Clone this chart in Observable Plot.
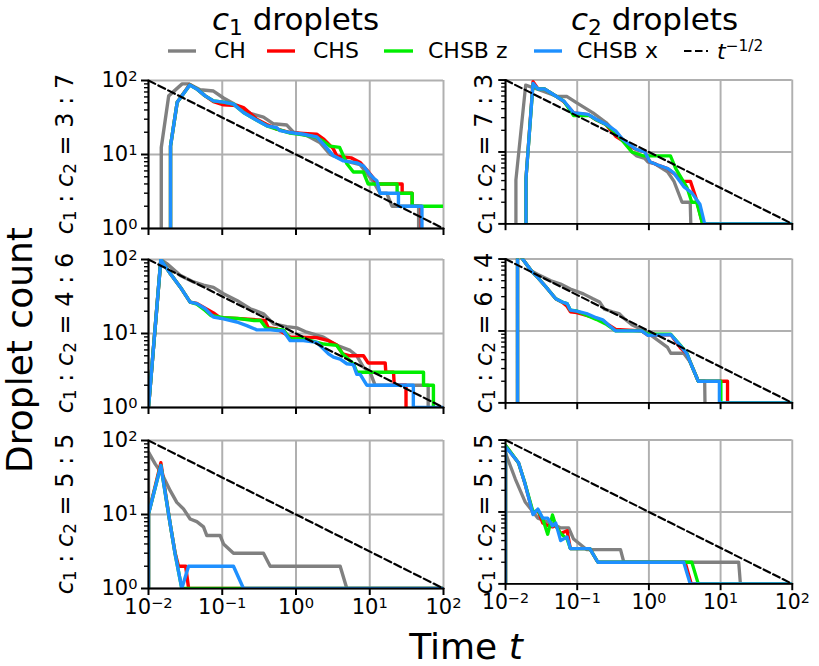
<!DOCTYPE html>
<html><head><meta charset="utf-8">
<script src="https://cdn.jsdelivr.net/npm/d3@7"></script>
<script src="https://cdn.jsdelivr.net/npm/@observablehq/plot@0.6"></script>
<style>
body{margin:0;background:#fff;font-family:"DejaVu Sans",sans-serif;}
#fig{position:relative;width:819px;height:666px;overflow:hidden;background:#fff}
.panel{position:absolute}
.lbl{position:absolute;white-space:nowrap;color:#000;line-height:1}
.sub{font-size:0.7em;vertical-align:-0.22em}
.sup{font-size:0.7em;vertical-align:0.5em}
</style></head><body><div id="fig"></div>
<script>
// ---- categories, styles of series ----
const seriesNames = ["CH", "CHS", "CHSB z", "CHSB x"];
const seriesColors = ["#808080", "#ff0000", "#00ee00", "#1e90ff"];
const colTitles = ["1", "2"];
const rowRatiosLeft = ["3 : 7", "4 : 6", "5 : 5"];
const rowRatiosRight = ["7 : 3", "6 : 4", "5 : 5"];
// ---- ticks ----
const xTicks = [1e-2, 1e-1, 1e0, 1e1, 1e2];
const xTickLabels = ["10^-2", "10^-1", "10^0", "10^1", "10^2"];
const yTicks = [1, 10, 100];
const yTickLabels = ["10^0", "10^1", "10^2"];
const yMinorTicks = [2, 3, 4, 5, 6, 7, 8, 9, 20, 30, 40, 50, 60, 70, 80, 90];
// reference t^(-1/2) line end points
const refT = [0.01, 100];
const refN = [100, 1];

// ---- data: [time, droplet count] (0 = no droplets) ----
// row 1, c1 droplets (3:7)
const r1c1_CH = [[0.0149,0],[0.0149,12.4],[0.0188,62],[0.0286,90],[0.0349,90],[0.0502,75],[0.076,72],[0.104,58],[0.158,46],[0.239,36],[0.362,32],[0.495,26],[0.751,25],[0.925,20],[1.4,18],[2.13,14.4],[2.9,10],[4.9,8.1],[7.4,7.3],[9.1,5.6],[11.2,4.3],[13.8,3],[17,3],[20,2],[46,2],[46,0]];
const r1c1_CHS = [[0.0199,0],[0.0199,13],[0.0245,51],[0.0363,88],[0.0452,77],[0.0587,62],[0.076,52],[0.104,47],[0.158,46],[0.194,43],[0.294,30],[0.402,25.5],[0.55,22],[0.834,19.8],[1.26,19.3],[1.91,18.8],[2.4,16],[3.2,12],[3.6,9.5],[5.6,9],[7.4,7.8],[9.1,6.2],[11.2,4.8],[12.5,4],[27.5,4],[27.5,3],[37.6,3],[37.6,2],[50,2],[50,0]];
const r1c1_CHSBz = [[0.0199,0],[0.0199,13],[0.0245,51],[0.0363,87],[0.0452,77],[0.0587,62],[0.076,53],[0.104,51],[0.142,48],[0.194,37],[0.294,29],[0.402,24.4],[0.55,22],[0.834,19.5],[1.26,18.5],[1.91,17],[2.36,15],[2.9,13],[3.9,12.5],[4.9,7.5],[6,5.8],[8.2,5.8],[9.5,4],[23.5,4],[23.5,3],[37.6,3],[37.6,2],[100,2]];
const r1c1_CHSBx = [[0.0199,0],[0.0199,13],[0.0245,51],[0.0363,87],[0.0452,77],[0.0587,62],[0.076,53],[0.104,51],[0.142,48],[0.194,37],[0.294,29],[0.402,24.4],[0.55,23],[0.61,21],[0.834,19.8],[1.26,18.8],[1.91,17.3],[2.36,13.8],[3.22,9.6],[4.4,8.2],[6.68,7.7],[8.22,7],[9.6,5.7],[11.2,4.8],[12.5,4.4],[13.8,3],[24.5,3],[24.5,2],[51,2],[51,0]];
// row 1, c2 droplets (7:3)
const r1c2_CH = [[0.01396,0],[0.01396,4.1],[0.0191,85],[0.0255,77],[0.0349,69],[0.0529,59],[0.0722,59],[0.0987,48],[0.166,35],[0.252,25.7],[0.344,18.7],[0.47,13.7],[0.579,10],[0.677,8.8],[0.879,8.1],[0.975,7.2],[1.2,6.9],[1.82,5.3],[2.24,3.9],[2.9,2],[3.77,2],[4.64,0]];
const r1c2_CHS = [[0.0193,0],[0.0193,4.3],[0.0242,95],[0.0283,76],[0.0349,75],[0.0476,62],[0.0651,50],[0.089,35],[0.142,33],[0.184,28],[0.252,24],[0.344,16.5],[0.424,14.5],[0.521,12.5],[0.643,11],[0.879,10],[1.03,7.3],[1.33,6.6],[1.82,5.9],[2.24,5],[3.0,3.9],[3.8,3.9],[4.6,2.2],[5.6,1],[100,1]];
const r1c2_CHSBz = [[0.0193,0],[0.0193,4.3],[0.0242,88],[0.0283,75],[0.0349,75],[0.0476,62],[0.0651,51],[0.089,32],[0.15,32],[0.184,28],[0.252,24],[0.344,18.5],[0.424,14.5],[0.579,10],[0.85,8.8],[2.0,8.8],[2.36,5.9],[3.4,3.2],[3.97,2],[4.64,2],[5.6,1],[100,1]];
const r1c2_CHSBx = [[0.0193,0],[0.0193,4.3],[0.0242,90],[0.0283,75],[0.0349,75],[0.0476,62],[0.0651,51],[0.089,35],[0.11,34.4],[0.142,33.3],[0.184,28.5],[0.252,24.3],[0.344,19.7],[0.424,15.2],[0.521,13],[0.643,11.1],[0.751,10.5],[0.879,10],[1.03,7.3],[1.33,6.6],[1.82,5.9],[2.24,5.07],[3.06,3.3],[3.97,2.7],[5.15,1.88],[6.0,1],[100,1]];
// row 2, c1 droplets (4:6)
const r2c1_CH = [[0.01,1],[0.0147,100],[0.0177,88],[0.0269,61],[0.0408,49.8],[0.0557,44.9],[0.076,42],[0.104,34.5],[0.158,28],[0.239,21.6],[0.362,18.5],[0.495,13.5],[0.751,12.4],[1.03,11.9],[1.4,10.4],[2.36,8.9],[3.58,6.9],[5.42,5.9],[6.68,5],[8.22,3.5],[10.1,3],[11.8,2],[62,2],[62,0]];
const r2c1_CHS = [[0.01,1],[0.0147,100],[0.0197,64.5],[0.0269,42.6],[0.0367,26.6],[0.0452,25.5],[0.076,19],[0.094,16.3],[0.158,16],[0.38,15],[0.42,12],[0.55,11.5],[0.834,9],[1.91,8.8],[2.76,8],[3.58,7],[4.3,5.3],[5.42,5],[8.22,5],[9.5,4],[16.2,4],[16.5,3],[21,3],[21.5,2],[31,2],[31.5,0]];
const r2c1_CHSBz = [[0.01,1],[0.0147,100],[0.0197,64.5],[0.0269,42.6],[0.0367,26.6],[0.0452,25],[0.0587,20.5],[0.07,17.5],[0.104,16.3],[0.158,16],[0.27,15],[0.33,15],[0.4,11.6],[0.676,11.2],[0.834,8.5],[1.26,8.5],[2.36,7.2],[3.58,6.9],[4.3,5.3],[6.0,3.9],[6.68,3],[53.6,3],[53.6,2],[73,2],[73,0]];
const r2c1_CHSBx = [[0.01,1],[0.0147,100],[0.0197,64.5],[0.0269,42.6],[0.0367,26.6],[0.0452,25.3],[0.0587,21.6],[0.076,16.7],[0.104,15.8],[0.158,14.3],[0.215,12.8],[0.294,11.2],[0.447,11.2],[0.676,10.8],[0.834,8],[1.26,8],[1.91,7.6],[2.76,5.3],[3.22,4.8],[3.97,4.5],[4.89,3.9],[6.0,3.8],[6.68,2.8],[7.41,2.8],[9.12,2],[39,2],[39,1],[100,1]];
// row 2, c2 droplets (6:4)
const r2c2_CH = [[0.0147,0],[0.0147,125],[0.023,68],[0.0283,61],[0.043,49.8],[0.0587,44.9],[0.0802,38.4],[0.122,32.8],[0.166,28],[0.205,25.3],[0.239,20.1],[0.31,18.5],[0.382,17.5],[0.447,15],[0.579,12.2],[0.879,10],[1.2,8],[1.82,5.9],[2.02,4.9],[3.06,4.9],[3.77,3.7],[4.89,2],[6.0,2],[6.68,0]];
const r2c2_CHS = [[0.0147,0],[0.0147,125],[0.023,68],[0.0283,55],[0.0387,38.4],[0.0502,28],[0.0618,25],[0.0722,22],[0.0802,18.5],[0.0987,18],[0.135,16.5],[0.184,15],[0.227,14],[0.279,12],[0.344,10.5],[0.791,10],[0.975,8.7],[2.02,8.9],[2.76,5.8],[3.4,4.8],[3.77,3.7],[4.89,2],[12.5,2],[12.5,1],[100,1]];
const r2c2_CHSBz = [[0.0147,0],[0.0147,125],[0.023,68],[0.0283,55],[0.0387,38.4],[0.0502,28],[0.0618,25.3],[0.0722,24],[0.0802,19.5],[0.0987,19],[0.135,16.5],[0.184,14.5],[0.25,12.5],[0.344,10],[0.791,10],[0.975,9],[2.02,9],[2.76,6.3],[3.4,4.9],[3.77,3.7],[4.89,2],[10.1,2],[10.1,1],[100,1]];
const r2c2_CHSBx = [[0.0147,0],[0.0147,125],[0.023,68],[0.0283,55],[0.0387,38.4],[0.0502,28],[0.0618,25.3],[0.0722,24],[0.0802,19.5],[0.0987,18.9],[0.135,17.5],[0.184,15.3],[0.227,14.3],[0.279,11.9],[0.344,10],[0.791,10],[0.975,8.7],[2.02,8.9],[2.76,6.2],[3.4,4.8],[3.77,3.7],[4.89,2],[9.62,2],[9.62,1],[100,1]];
// row 3, c1 droplets (5:5)
const r3c1_CH = [[0.01,0],[0.01,69.5],[0.0123,48.3],[0.0152,35.4],[0.0197,21],[0.0242,14.6],[0.0298,11.9],[0.0367,8.7],[0.0452,8],[0.0557,6.8],[0.0618,5.2],[0.0937,5.2],[0.104,4],[0.142,3],[0.362,3],[0.447,2],[3.97,2],[4.89,1],[100,1]];
const r3c1_CHS = [[0.01,0],[0.01,10.2],[0.0147,50],[0.0197,7.4],[0.023,3],[0.0255,2],[0.0319,2],[0.035,1],[100,1]];
const r3c1_CHSBz = [[0.01,0],[0.01,10.2],[0.0147,46],[0.0197,7.4],[0.023,2.9],[0.0283,1],[100,1]];
const r3c1_CHSBx = [[0.01,0],[0.01,10.2],[0.0147,45.8],[0.0197,7.4],[0.023,2.9],[0.0283,1],[0.0349,2],[0.142,2],[0.194,1],[100,1]];
// row 3, c2 droplets (5:5)
const r3c2_CH = [[0.01,0],[0.01,65.9],[0.0137,28.7],[0.0187,13.9],[0.0283,8.2],[0.0476,6.7],[0.0587,6],[0.076,6],[0.089,4.2],[0.135,3],[0.402,3],[0.447,2],[17.9,2],[18.9,1],[100,1]];
const r3c2_CHS = [[0.01,0],[0.01,83],[0.0152,48],[0.0187,24.6],[0.0242,9.5],[0.0283,10.5],[0.0331,7],[0.0387,6.5],[0.0452,6.2],[0.0502,6.5],[0.0587,5],[0.0722,5.5],[0.0802,3.1],[0.15,3.1],[0.194,2],[3.2,2],[3.9,1],[100,1]];
const r3c2_CHSBz = [[0.01,0],[0.01,85],[0.0152,48],[0.0187,25],[0.0242,10],[0.0283,10.5],[0.0331,8],[0.0387,4.9],[0.0452,9.1],[0.0502,6.5],[0.0587,5],[0.0722,4.2],[0.0802,3.1],[0.15,3.1],[0.194,2],[3.97,2],[4.89,1],[100,1]];
const r3c2_CHSBx = [[0.01,0],[0.01,81],[0.0152,48.3],[0.0187,24.6],[0.0242,9.2],[0.0283,11],[0.0331,8.2],[0.0387,8.2],[0.0452,6.4],[0.0502,7],[0.0587,4],[0.0722,4.5],[0.0802,3.1],[0.15,3.1],[0.194,2],[3.06,2],[3.77,1],[100,1]];

const panels = [
  [[r1c1_CH, r1c1_CHS, r1c1_CHSBz, r1c1_CHSBx], [r1c2_CH, r1c2_CHS, r1c2_CHSBz, r1c2_CHSBx]],
  [[r2c1_CH, r2c1_CHS, r2c1_CHSBz, r2c1_CHSBx], [r2c2_CH, r2c2_CHS, r2c2_CHSBz, r2c2_CHSBx]],
  [[r3c1_CH, r3c1_CHS, r3c1_CHSBz, r3c1_CHSBx], [r3c2_CH, r3c2_CHS, r3c2_CHSBz, r3c2_CHSBx]]
];

// ---- layout ----
const fig = document.getElementById("fig");
const colX = [148, 507], rowY = [80, 259, 440];
const PW = 295, PH = 148;
const mL = 70, mR = 28, mT = 16, mB = 46;
const refLine = refT.map((t, i) => ({t, n: refN[i]}));
const FLOOR = 1e-3;

function supFix(svg) {
  d3.select(svg).selectAll("text").each(function () {
    const s = this.textContent;
    const m = /^10\^(.+)$/.exec(s);
    if (!m) return;
    const sel = d3.select(this);
    sel.text("");
    sel.append("tspan").text("10");
    sel.append("tspan").attr("dy", "-0.45em").attr("font-size", "0.7em").text(m[1].replace("-", "\u2212"));
  });
}

for (let r = 0; r < 3; r++) {
  for (let c = 0; c < 2; c++) {
    const data = panels[r][c];
    const fx = d => xTickLabels[xTicks.indexOf(d)];
    const fy = d => yTickLabels[yTicks.indexOf(d)];
    const svg = Plot.plot({
      width: PW + mL + mR, height: PH + mT + mB,
      marginLeft: mL, marginRight: mR, marginTop: mT, marginBottom: mB,
      style: {background: "transparent", fontFamily: "DejaVu Sans", overflow: "visible", color: "black"},
      x: {type: "log", domain: [0.01, 100]},
      y: {type: "log", domain: [1, 100]},
      marks: [
        Plot.ruleX(xTicks, {stroke: "#b0b0b0", strokeWidth: 2}),
        Plot.ruleY(yTicks, {stroke: "#b0b0b0", strokeWidth: 2}),
        ...data.map((d, i) => Plot.line(d, {
          x: p => p[0], y: p => (p[1] > 0 ? p[1] : FLOOR),
          stroke: seriesColors[i], strokeWidth: 3.4, clip: true
        })),
        Plot.line(refLine, {x: "t", y: "n", stroke: "black", strokeWidth: 2.2, strokeDasharray: "7.5,3.5"}),
        Plot.ruleX([0.01], {stroke: "black", strokeWidth: 2}),
        Plot.ruleY([1], {stroke: "black", strokeWidth: 2}),
        Plot.axisX({ticks: xTicks, tickSize: 7, tickPadding: 4, strokeWidth: 2, fontSize: 21, label: null,
          tickFormat: r === 2 ? fx : () => ""}),
        Plot.axisY({ticks: yTicks, tickSize: 7, tickPadding: 4, strokeWidth: 2, fontSize: 21, label: null,
          tickFormat: c === 0 ? fy : () => ""}),
        Plot.axisY({ticks: yMinorTicks, tickSize: 4, strokeWidth: 1.4, label: null, tickFormat: () => ""})
      ]
    });
    supFix(svg);
    const div = document.createElement("div");
    div.className = "panel";
    div.style.left = (colX[c] - mL) + "px";
    div.style.top = (rowY[r] - mT) + "px";
    div.appendChild(svg);
    fig.appendChild(div);
  }
}

// ---- text labels ----
function label(html, x, y, size, rotate, extra) {
  const el = document.createElement("div");
  el.className = "lbl";
  el.innerHTML = html;
  el.style.left = x + "px";
  el.style.top = y + "px";
  el.style.fontSize = size + "px";
  el.style.transform = "translate(-50%,-50%)" + (rotate ? " rotate(-90deg)" : "");
  if (extra) Object.assign(el.style, extra);
  fig.appendChild(el);
  return el;
}
const ci = n => `<i>c</i><span class="sub">${n}</span>`;
// column titles
label(`${ci(colTitles[0])} droplets`, colX[0] + PW / 2, 21, 31, false);
label(`${ci(colTitles[1])} droplets`, colX[1] + PW / 2, 21, 31, false);
// row labels
for (let r = 0; r < 3; r++) {
  const cy = rowY[r] + PH / 2;
  label(`${ci(1)} : ${ci(2)} = ${rowRatiosLeft[r]}`, 66, cy, 24, true);
  label(`${ci(1)} : ${ci(2)} = ${rowRatiosRight[r]}`, 485, cy, 24, true);
}
// axis labels
label("Droplet count", 20, 350, 36, true);
label("Time <i>t</i>", 466, 647, 36, false);

// ---- legend ----
const legendItems = [
  {sw: [168, 196], tx: 214, html: seriesNames[0], color: seriesColors[0], dash: null},
  {sw: [267, 295], tx: 313, html: seriesNames[1], color: seriesColors[1], dash: null},
  {sw: [384, 413], tx: 428, html: seriesNames[2], color: seriesColors[2], dash: null},
  {sw: [534, 562], tx: 577, html: seriesNames[3], color: seriesColors[3], dash: null},
  {sw: [684, 708], tx: 717, html: `<i>t</i><span class="sup">\u22121/2</span>`, color: "black", dash: "7.5,3.5"}
];
const legY = 51;
const lsvg = d3.select(fig).append("svg").attr("width", 819).attr("height", 80)
  .style("position", "absolute").style("left", "0px").style("top", "0px");
legendItems.forEach(it => {
  lsvg.append("line").attr("x1", it.sw[0]).attr("x2", it.sw[1]).attr("y1", legY).attr("y2", legY)
    .attr("stroke", it.color).attr("stroke-width", it.dash ? 2.2 : 3.4)
    .attr("stroke-dasharray", it.dash);
  const el = label(it.html, it.tx, legY, 22, false);
  el.style.transform = "translate(0,-50%)";
});
</script></body></html>
